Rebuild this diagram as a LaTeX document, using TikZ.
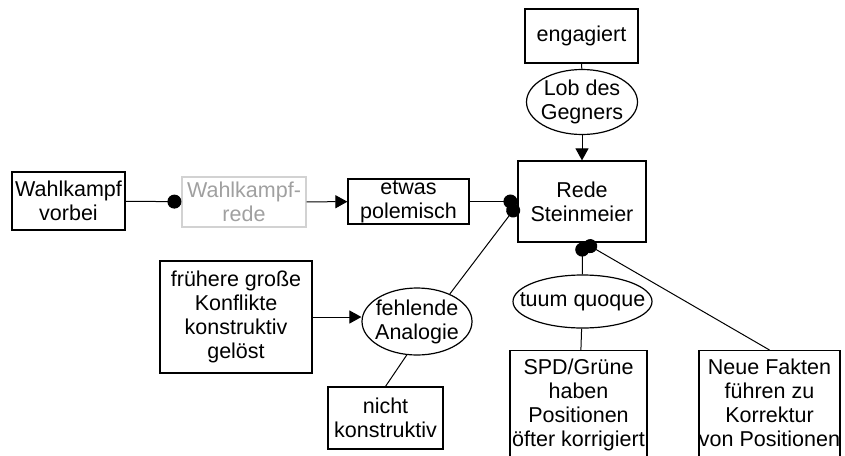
\documentclass[tikz,border=0pt]{standalone}
\usepackage{fontspec}
\setmainfont{Liberation Sans}
\usetikzlibrary{arrows.meta, shapes.geometric}

\definecolor{blass}{RGB}{160,160,160}
\definecolor{blassrand}{RGB}{210,210,210}

\begin{document}
\begin{tikzpicture}[
    x=0.5pt, y=-0.5pt,
    box/.style={draw, line width=0.6pt, align=center, inner sep=0pt},
    oval/.style={draw, ellipse, line width=0.6pt, align=center, inner xsep=-8pt, inner ysep=-6pt},
    dotend/.style={-{Circle[length=7pt]}},
    >={Triangle[length=6pt, width=6.5pt]},
    line width=0.5pt,
    font=\fontsize{10.75}{12}\selectfont
]
    \clip (0,0) rectangle (845,455);

    % 节点定义 (矩形)
    \node[box, minimum width=56.5pt, minimum height=29pt] (vorbei) at (68.5, 201) {Wahlkampf\\vorbei};
    \node[box, draw=blassrand, text=blass, minimum width=62pt, minimum height=25pt] (wkrede) at (244, 202) {Wahlkampf-\\rede};
    \node[box, minimum width=60.5pt, minimum height=22.5pt] (polem) at (408.5, 201.5) {etwas\\polemisch};
    \node[box, minimum width=64pt, minimum height=40.5pt] (rede) at (582, 201.5) {Rede\\Steinmeier};
    \node[box, minimum width=56.5pt, minimum height=27pt] (engag) at (581.5, 36) {engagiert};
    \node[box, minimum width=76pt, minimum height=56pt] (frueh) at (236, 317) {frühere große\\Konflikte\\konstruktiv\\gelöst};
    \node[box, minimum width=57.5pt, minimum height=31pt] (nicht) at (385.5, 418) {nicht\\konstruktiv};
    % 下方两个框 (下边超出画面)
    \node[box, anchor=north, inner ysep=4pt, text depth=20pt, minimum width=68.5pt] (spd) at (578.5, 350) {SPD/Grüne\\haben\\Positionen\\öfter korrigiert};
    \node[box, anchor=north, inner ysep=4pt, text depth=20pt, minimum width=70.5pt] (neue) at (769.5, 350) {Neue Fakten\\führen zu\\Korrektur\\von Positionen};

    % 椭圆节点
    \node[oval, minimum width=55.5pt, minimum height=32.5pt] (lob) at (582, 102) {Lob des\\Gegners};
    \node[oval, minimum width=69.5pt, minimum height=26.5pt] (tuum) at (582.5, 301.5) {tuum quoque};
    \node[oval, minimum width=55pt, minimum height=33.5pt] (fehl) at (417, 321.5) {fehlende\\Analogie};

    % 1. 左边一排
    \draw[dotend] (vorbei) -- (wkrede);
    \draw[->] (wkrede) -- (polem);
    \draw[dotend] (polem) -- (rede);

    % 2. 上方
    \draw (engag) -- (lob);
    \draw[->] (lob) -- (rede);

    % 3. 左下
    \draw[->] (frueh.east) -- (frueh.east -| fehl.west);
    \draw[dotend] (fehl.40) -- (rede.183);
    \draw (nicht.north) -- (fehl.253);

    % 4. 右下
    \draw[dotend] (tuum) -- (rede);
    \draw (tuum) -- (spd);
    \draw[dotend] (neue.north) -- (rede.273);

\end{tikzpicture}
\end{document}
